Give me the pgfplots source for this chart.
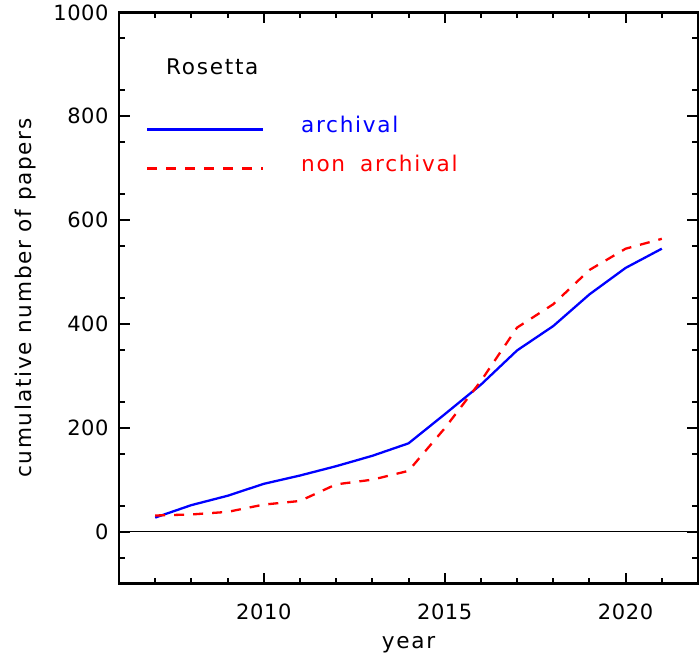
\documentclass[border=0pt]{standalone}
\usepackage{pgfplots}
\pgfplotsset{compat=1.18}
\usepackage{fontspec}
\setmainfont{DejaVu Sans}[LetterSpace=8]
\newfontfamily\tickfont{DejaVu Sans}[LetterSpace=3]
\definecolor{idlblue}{RGB}{0,0,255}
\definecolor{idlred}{RGB}{255,0,0}
\pgfplotstableread{
year val
2007 27
2008 51
2009 69
2010 92
2011 108
2012 126
2013 146
2014 170
2015 226
2016 283
2017 349
2018 396
2019 457
2020 508
2021 545
}\archival
\pgfplotstableread{
year val
2007 31
2008 33
2009 38
2010 52
2011 59
2012 91
2013 100
2014 117
2015 199
2016 290
2017 393
2018 438
2019 504
2020 545
2021 564
}\nonarchival
\begin{document}
\begin{tikzpicture}[font=\fontsize{10.8}{13}\selectfont]
\path[use as bounding box] (-59.5pt,-37.85pt) rectangle (290.5pt,291.75pt);
\begin{axis}[
  at={(0pt,0pt)}, anchor=south west,
  scale only axis, width=289.5pt, height=285.5pt,
  xmin=2006, xmax=2022, ymin=-100, ymax=1000,
  xtick={2010,2015,2020},
  minor xtick={2007,2008,2009,2011,2012,2013,2014,2016,2017,2018,2019,2021},
  ytick={0,200,400,600,800,1000},
  minor ytick={-50,50,150,250,350,450,550,650,750,850,950},
  tick align=inside,
  major tick length=5.5pt, minor tick length=3pt,
  every tick/.style={black, line width=1pt},
  axis line style={line width=1.2pt},
  /pgf/number format/assume math mode=true,
  /pgf/number format/1000 sep={},
  ticklabel style={font=\tickfont\fontsize{10.5}{12.6}\selectfont},
  xticklabel style={inner sep=0pt, anchor=north, yshift=-10pt},
  yticklabel style={inner sep=0pt, anchor=east, xshift=-5pt},
  xlabel={year}, ylabel={cumulative number of papers},
  every axis x label/.style={at={(axis description cs:0.5,-0.1133)}, anchor=base},
  every axis y label/.style={at={(axis description cs:-0.1508,0.5)}, rotate=90, anchor=base},
  clip=false,
]
\addplot[black, line width=0.5pt, forget plot] coordinates {(2006,0) (2022,0)};
\addplot[idlblue, line width=1.15pt] table[x=year, y=val] {\archival};
\addplot[idlred, line width=1.15pt, dash pattern=on 5pt off 4.5pt] table[x=year, y=val] {\nonarchival};
\end{axis}
\node[anchor=base west, inner sep=0pt] at (23.35pt,254.65pt) {Rosetta};
\draw[idlblue, line width=1.15pt] (14.15pt,227pt) -- (71.85pt,227pt);
\draw[idlred, line width=1.15pt, dash pattern=on 5pt off 4.5pt] (14.15pt,207.5pt) -- (71.85pt,207.5pt);
\node[anchor=base west, inner sep=0pt, text=idlblue] at (90.85pt,225.5pt) {archival};
\node[anchor=base west, inner sep=0pt, text=idlred] at (90.85pt,206.15pt) {non\hspace{0.3em} archival};
\end{tikzpicture}
\end{document}
